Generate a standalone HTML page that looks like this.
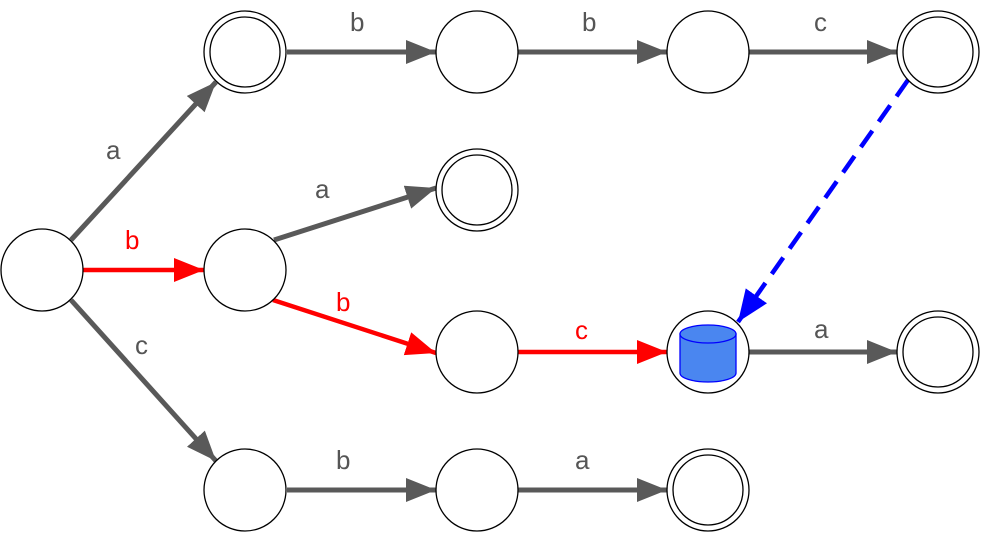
<!DOCTYPE html>
<html><head><style>body{margin:0;background:#fff}svg{display:block}</style></head><body>
<svg width="994" height="544" viewBox="0 0 994 544" xmlns="http://www.w3.org/2000/svg" font-family="Liberation Sans, Arial, sans-serif" font-size="26">
<defs>
<marker id="g" markerUnits="userSpaceOnUse" markerWidth="32" markerHeight="26" refX="30" refY="12" orient="auto"><path d="M0,0 L30,12 L0,24 Z" fill="#595959"/></marker>
<marker id="r" markerUnits="userSpaceOnUse" markerWidth="32" markerHeight="26" refX="30" refY="12" orient="auto"><path d="M0,0 L30,12 L0,24 Z" fill="#ff0000"/></marker>
<marker id="b" markerUnits="userSpaceOnUse" markerWidth="34" markerHeight="28" refX="32" refY="13" orient="auto"><path d="M0,0 L32,13 L0,26 Z" fill="#0000ff"/></marker>
</defs>
<g stroke="#595959" stroke-width="5" fill="none" marker-end="url(#g)">
<line x1="71" y1="240" x2="216" y2="82"/>
<line x1="71" y1="300" x2="216" y2="461"/>
<line x1="287" y1="52" x2="436" y2="52"/>
<line x1="518" y1="52" x2="667" y2="52"/>
<line x1="749" y1="52" x2="897" y2="52"/>
<line x1="274" y1="240" x2="436" y2="188"/>
<line x1="749" y1="352" x2="897" y2="352"/>
<line x1="287" y1="490" x2="436" y2="490"/>
<line x1="518" y1="490" x2="667" y2="490"/>
</g>
<g stroke="#ff0000" stroke-width="4.5" fill="none" marker-end="url(#r)">
<line x1="83" y1="270" x2="204" y2="270"/>
<line x1="273" y1="300" x2="436" y2="353"/>
<line x1="518" y1="352" x2="667" y2="352"/>
</g>
<line x1="908" y1="80" x2="738" y2="322" stroke="#0000ff" stroke-width="4.5" stroke-dasharray="20,11" marker-end="url(#b)"/>
<g fill="#fff" stroke="#000" stroke-width="1.3">
<circle cx="42" cy="270" r="41"/>
<circle cx="245" cy="52" r="41"/><circle cx="245" cy="52" r="35"/>
<circle cx="477" cy="52" r="41"/>
<circle cx="708" cy="52" r="41"/>
<circle cx="938" cy="52" r="41"/><circle cx="938" cy="52" r="35"/>
<circle cx="477" cy="190" r="41"/><circle cx="477" cy="190" r="35"/>
<circle cx="245" cy="270" r="41"/>
<circle cx="477" cy="352" r="41"/>
<circle cx="708" cy="352" r="41"/>
<circle cx="938" cy="352" r="41"/><circle cx="938" cy="352" r="35"/>
<circle cx="245" cy="490" r="41"/>
<circle cx="477" cy="490" r="41"/>
<circle cx="708" cy="490" r="41"/><circle cx="708" cy="490" r="35"/>
</g>
<g stroke="#0000ff" stroke-width="1.3" fill="#4a86f0">
<path d="M680,334 L680,373 A28,9 0 0 0 736,373 L736,334 Z"/>
<ellipse cx="708" cy="334" rx="28" ry="9"/>
</g>
<g fill="#555">
<text x="106" y="159">a</text>
<text x="135" y="354">c</text>
<text x="350" y="31">b</text>
<text x="582" y="31">b</text>
<text x="814" y="31">c</text>
<text x="315" y="198">a</text>
<text x="814" y="338">a</text>
<text x="336" y="469">b</text>
<text x="575" y="469">a</text>
</g>
<g fill="#ff0000">
<text x="125" y="249">b</text>
<text x="336" y="311">b</text>
<text x="575" y="339">c</text>
</g>
</svg>
</body></html>
